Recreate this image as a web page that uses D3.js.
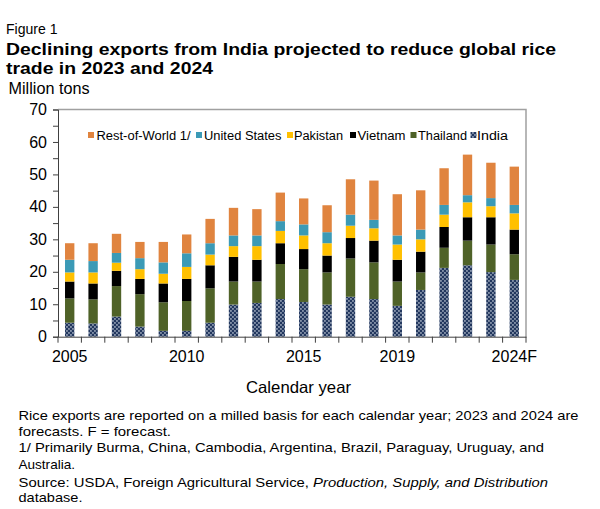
<!DOCTYPE html>
<html>
<head>
<meta charset="utf-8">
<script src="https://cdn.jsdelivr.net/npm/d3@7"></script>
<style>
  html, body { margin: 0; padding: 0; background: #fff; }
  svg { display: block; font-family: "Liberation Sans", Arial, sans-serif; }
</style>
</head>
<body>
<svg id="chart" width="600" height="509"></svg>
<script>
// ---- Data (million tons, milled basis) ----
const years = ["2005","2006","2007","2008","2009","2010","2011","2012","2013","2014",
               "2015","2016","2017","2018","2019","2020","2021","2022","2023","2024F"];
const india    = [4.3, 4.1, 6.2, 3.1, 1.8, 1.8, 4.3, 9.9, 10.4, 11.6, 10.7, 9.9, 12.3, 11.6, 9.5, 14.4, 21.2, 22.0, 19.9, 17.5];
const thailand = [7.5, 7.4, 9.4, 10.0, 8.8, 9.2, 10.6, 7.1, 6.6, 10.8, 10.1, 9.9, 11.8, 11.3, 7.5, 5.4, 6.2, 7.6, 8.5, 7.9];
const vietnam  = [5.2, 4.9, 4.7, 4.7, 5.8, 6.8, 7.1, 7.6, 6.7, 6.4, 6.2, 5.2, 6.3, 6.7, 6.7, 6.4, 6.4, 7.2, 8.4, 7.6];
const pakistan = [2.8, 3.4, 2.5, 3.0, 3.0, 3.7, 3.3, 3.3, 4.2, 3.8, 4.2, 3.8, 3.8, 3.8, 4.7, 3.8, 3.8, 4.6, 3.4, 5.0];
const unitedStates = [3.9, 3.5, 3.0, 3.4, 3.5, 4.2, 3.5, 3.3, 3.3, 3.0, 3.4, 3.4, 3.4, 2.6, 2.8, 3.0, 3.0, 2.2, 2.5, 2.6];
const restOfWorld  = [5.1, 5.5, 5.9, 5.0, 6.3, 5.8, 7.5, 8.5, 8.1, 8.8, 8.0, 8.3, 10.9, 12.1, 12.7, 12.1, 11.3, 12.5, 10.9, 11.8];
const xTickLabels = ["2005","2010","2015","2019","2024F"];
const yTicks = [0,10,20,30,40,50,60,70];
const yMinorTicks = [5,15,25,35,45,55,65];

// series in stacking order (bottom to top)
const seriesKeys = ["India","Thailand","Vietnam","Pakistan","United States","Rest-of-World 1/"];
const seriesValues = [india, thailand, vietnam, pakistan, unitedStates, restOfWorld];

const colors = {
  "India": "url(#indiaPattern)",
  "Thailand": "#4F6228",
  "Vietnam": "#000000",
  "Pakistan": "#FFC000",
  "United States": "#3B9AB6",
  "Rest-of-World 1/": "#E0843F"
};

const table = years.map((yr, i) => {
  const row = { year: yr };
  seriesKeys.forEach((k, j) => row[k] = seriesValues[j][i]);
  return row;
});

// ---- Layout ----
const svg = d3.select("#chart");
const plot = { left: 58, right: 526, top: 109.5, bottom: 336.7 };

const defs = svg.append("defs");
const pat = defs.append("pattern").attr("id", "indiaPattern")
  .attr("patternUnits", "userSpaceOnUse").attr("width", 4).attr("height", 4);
pat.append("rect").attr("width", 4).attr("height", 4).attr("fill", "#22375E");
pat.append("rect").attr("x", 0.3).attr("y", 0.3).attr("width", 1.3).attr("height", 1.3).attr("fill", "#E8EEF6");
pat.append("rect").attr("x", 2.3).attr("y", 2.3).attr("width", 1.3).attr("height", 1.3).attr("fill", "#E8EEF6");

const x = d3.scaleBand().domain(years).range([plot.left, plot.right])
  .paddingInner(0.6).paddingOuter(0.3);
const y = d3.scaleLinear().domain([0, 70]).range([plot.bottom, plot.top]);

const stacked = d3.stack().keys(seriesKeys)(table);

// ---- Bars ----
svg.append("g").selectAll("g").data(stacked).join("g")
  .attr("fill", d => colors[d.key])
  .selectAll("rect").data(d => d).join("rect")
  .attr("x", d => x(d.data.year))
  .attr("width", x.bandwidth())
  .attr("y", d => y(d[1]))
  .attr("height", d => y(d[0]) - y(d[1]));

// ---- Plot border (top/right) ----
svg.append("path")
  .attr("d", `M${plot.left},${y(70)}H${plot.right}V${y(0)}`)
  .attr("fill", "none").attr("stroke", "#A0A0A0").attr("stroke-width", 1.5);

// ---- Y axis ----
const yAxis = d3.axisLeft(y).tickValues(yTicks).tickSize(5).tickPadding(6).tickFormat(d3.format("d"));
const gy = svg.append("g").attr("transform", `translate(${plot.left},0)`).call(yAxis);
gy.select(".domain").attr("stroke", "#404040");
gy.selectAll(".tick line").attr("stroke", "#404040");
gy.selectAll(".tick text").attr("font-size", 16).attr("fill", "#000")
  .attr("font-family", "Liberation Sans, Arial, sans-serif");
const gyMinor = svg.append("g").attr("transform", `translate(${plot.left},0)`)
  .call(d3.axisLeft(y).tickValues(yMinorTicks).tickSize(5).tickFormat(""));
gyMinor.select(".domain").remove();
gyMinor.selectAll(".tick line").attr("stroke", "#404040");

// ---- X axis ----
const xAxis = d3.axisBottom(x).tickValues(xTickLabels).tickSize(0).tickPadding(14);
const gx = svg.append("g").attr("transform", `translate(0,${plot.bottom})`).call(xAxis);
gx.select(".domain").attr("stroke", "#404040");
gx.selectAll(".tick text").attr("font-size", 16).attr("fill", "#000")
  .attr("font-family", "Liberation Sans, Arial, sans-serif");
// category boundary ticks
const step = x.step();
const x0 = x(years[0]) - x.paddingOuter() * step;
svg.append("g").selectAll("line").data(d3.range(years.length + 1)).join("line")
  .attr("x1", i => x0 + i * step).attr("x2", i => x0 + i * step)
  .attr("y1", plot.bottom).attr("y2", plot.bottom + 6)
  .attr("stroke", "#404040");

// ---- Legend ----
const legendItems = [
  { key: "Rest-of-World 1/", sx: 88,  tx: 96.5, w: 94 },
  { key: "United States",    sx: 196, tx: 204,  w: 77.5 },
  { key: "Pakistan",         sx: 287, tx: 294,  w: 49 },
  { key: "Vietnam",          sx: 350, tx: 357.5,w: 48 },
  { key: "Thailand",         sx: 410.5, tx: 418, w: 49 },
  { key: "India",            sx: 470.5, tx: 477, w: 31 }
];
const lg = svg.append("g");
legendItems.forEach(it => {
  lg.append("rect").attr("x", it.sx).attr("y", 132).attr("width", 6).attr("height", 6)
    .attr("fill", colors[it.key]);
  lg.append("text").attr("x", it.tx).attr("y", 139.5).attr("font-size", 12)
    .attr("textLength", it.w).attr("lengthAdjust", "spacingAndGlyphs")
    .text(it.key);
});

// ---- Titles and notes ----
function txt(s, xx, yy, size, opts = {}) {
  const t = svg.append("text").attr("x", xx).attr("y", yy).attr("font-size", size)
    .attr("fill", "#000");
  if (opts.weight) t.attr("font-weight", opts.weight);
  if (opts.w) t.attr("textLength", opts.w).attr("lengthAdjust", "spacingAndGlyphs");
  t.text(s);
  return t;
}
txt("Figure 1", 6, 33.5, 14, { w: 51.5 });
txt("Declining exports from India projected to reduce global rice", 6, 54.5, 17, { weight: "bold", w: 550 });
txt("trade in 2023 and 2024", 6, 73.5, 17, { weight: "bold", w: 207 });
txt("Million tons", 8.5, 93.5, 16, { w: 81 });
txt("Calendar year", 246, 392.5, 16.5, { w: 105 });

const noteSize = 13.5;
txt("Rice exports are reported on a milled  basis for each calendar year; 2023 and 2024 are", 18.5, 420, noteSize, { w: 560 });
txt("forecasts. F = forecast.", 18.5, 435.5, noteSize, { w: 152.5 });
txt("1/ Primarily  Burma,  China, Cambodia,  Argentina, Brazil, Paraguay, Uruguay, and", 18.5, 452, noteSize, { w: 525.5 });
txt("Australia.", 18.5, 469, noteSize, { w: 56.5 });
const src = svg.append("text").attr("x", 18.5).attr("y", 486.5).attr("font-size", noteSize)
  .attr("textLength", 529.5).attr("lengthAdjust", "spacingAndGlyphs");
src.append("tspan").text("Source: USDA, Foreign Agricultural Service, ");
src.append("tspan").attr("font-style", "italic").text("Production, Supply, and Distribution");
txt("database.", 18.5, 502, noteSize, { w: 64 });
</script>
</body>
</html>
